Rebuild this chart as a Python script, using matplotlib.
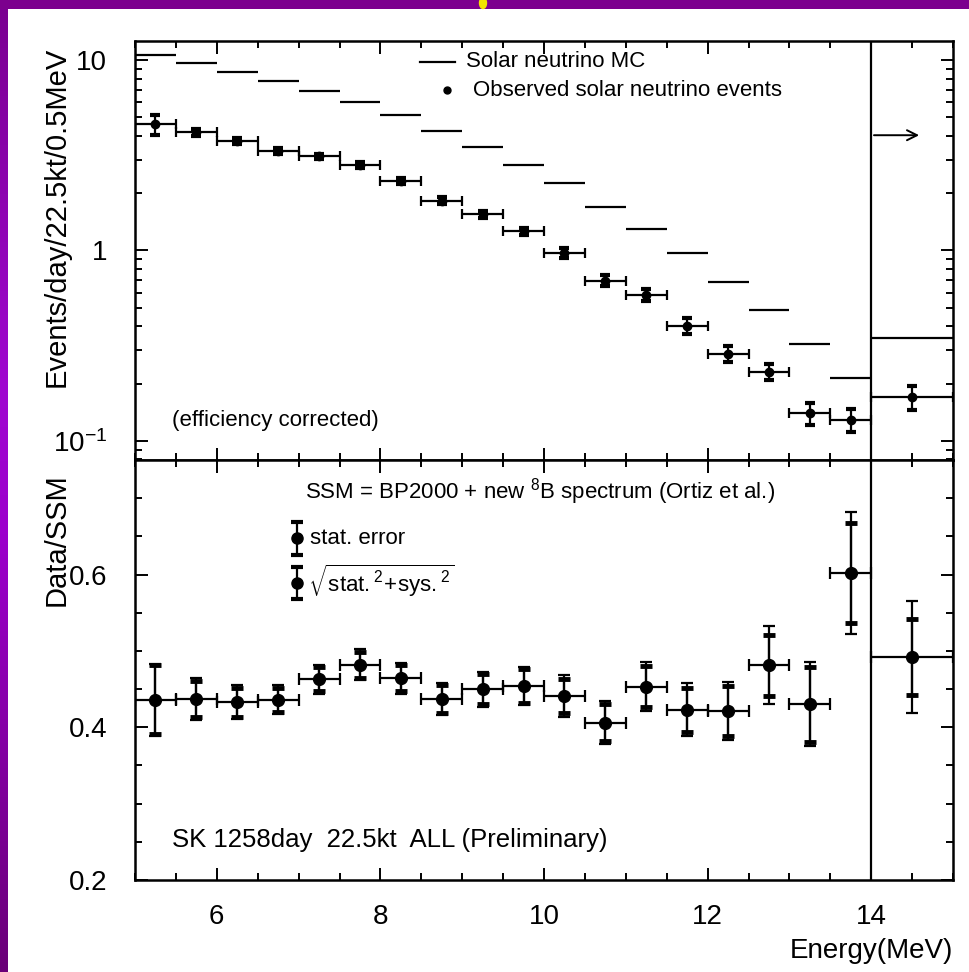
import numpy as np
import matplotlib
matplotlib.use('Agg')
import matplotlib.pyplot as plt
from matplotlib.ticker import FixedLocator, MultipleLocator, LogLocator, FuncFormatter, NullFormatter
from matplotlib.patches import Ellipse

plt.rcParams['font.family'] = ['Liberation Sans', 'DejaVu Sans']
plt.rcParams['mathtext.fontset'] = 'custom'
plt.rcParams['mathtext.rm'] = 'Liberation Sans'
plt.rcParams['mathtext.it'] = 'Liberation Sans:italic'
plt.rcParams['mathtext.bf'] = 'Liberation Sans:bold'

# energy bins (MeV): 0.5 MeV bins from 5 to 14, last bin 14-15
energy = [5.25, 5.75, 6.25, 6.75, 7.25, 7.75, 8.25, 8.75, 9.25, 9.75,
          10.25, 10.75, 11.25, 11.75, 12.25, 12.75, 13.25, 13.75, 14.5]
half_width = [0.25] * 18 + [0.5]

# upper panel: events/day/22.5kt/0.5MeV
mc_rate = [10.6, 9.6, 8.67, 7.75, 6.87, 6.01, 5.13, 4.23, 3.48, 2.80,
           2.25, 1.70, 1.29, 0.976, 0.687, 0.489, 0.324, 0.215, 0.348]
obs_rate = [4.60, 4.18, 3.75, 3.32, 3.12, 2.80, 2.31, 1.83, 1.55, 1.26,
            0.976, 0.695, 0.587, 0.403, 0.287, 0.231, 0.140, 0.129, 0.170]
obs_err = [0.55, 0.18, 0.14, 0.12, 0.11, 0.10, 0.08, 0.07, 0.06, 0.06,
           0.06, 0.045, 0.042, 0.04, 0.028, 0.022, 0.018, 0.018, 0.024]
arrow_level = 4.03

# lower panel: Data/SSM
ratio = [0.436, 0.437, 0.433, 0.436, 0.463, 0.482, 0.464, 0.437, 0.450, 0.454,
         0.441, 0.406, 0.453, 0.423, 0.421, 0.481, 0.430, 0.602, 0.492]
ratio_stat = [0.045, 0.024, 0.019, 0.016, 0.016, 0.017, 0.017, 0.018, 0.020, 0.022,
              0.022, 0.024, 0.027, 0.029, 0.033, 0.040, 0.049, 0.066, 0.050]
ratio_tot = [0.047, 0.027, 0.022, 0.019, 0.019, 0.020, 0.020, 0.021, 0.023, 0.025,
             0.027, 0.028, 0.032, 0.035, 0.038, 0.051, 0.055, 0.080, 0.073]

x = np.array(energy)
xw = np.array(half_width)

W, H = 969, 972
fig = plt.figure(figsize=(W / 100, H / 100), dpi=100)
fig.patch.set_facecolor('white')

# purple frame (slide background)
grad = fig.add_axes([0, 0, 8 / W, 1])
cols = np.array([[0x6a, 0x00, 0x78], [0x9c, 0x00, 0xcc], [0xa0, 0x08, 0xd0], [0x7a, 0x00, 0x90]]) / 255
yy = np.linspace(0, 1, 200)
img = np.stack([np.interp(yy, [0, 0.45, 0.6, 1], cols[:, k]) for k in range(3)], axis=-1)[:, None, :]
grad.imshow(img, aspect='auto', origin='lower', extent=[0, 1, 0, 1])
grad.axis('off')
topbar = fig.add_axes([0, 1 - 9 / H, 1, 9 / H])
topbar.set_facecolor('#7c008e')
topbar.set_xticks([]); topbar.set_yticks([])
for s in topbar.spines.values():
    s.set_visible(False)
fig.patches.append(Ellipse((483 / W, 1 - 3 / H), 7 / W, 11 / H, transform=fig.transFigure,
                           color='#f2e400', zorder=10))

left, right = 135 / W, 953 / W
ax1 = fig.add_axes([left, 1 - 460 / H, right - left, 419 / H])
ax2 = fig.add_axes([left, 1 - 880 / H, right - left, 420 / H], sharex=ax1)

lw = 1.6
# ---------- upper panel ----------
ax1.hlines(mc_rate, x - xw, x + xw, color='k', lw=lw)
ax1.errorbar(x, obs_rate, xerr=xw, fmt='o', color='k', ms=6, lw=lw, capsize=3.5, capthick=lw)
ax1.errorbar(x, obs_rate, yerr=obs_err, fmt='none', ecolor='k', lw=lw, capsize=3.5, capthick=3)
ax1.annotate('', xy=(14.62, arrow_level), xytext=(14.0, arrow_level),
             arrowprops=dict(arrowstyle='->', color='k', lw=1.4, mutation_scale=18))
ax1.set_yscale('log')
ax1.set_ylim(10 ** -1.1, 10 ** 1.1)
ax1.yaxis.set_major_locator(FixedLocator([0.1, 1, 10]))
ax1.yaxis.set_minor_locator(LogLocator(base=10, subs=np.arange(2, 10)))
ax1.yaxis.set_minor_formatter(NullFormatter())
ax1.yaxis.set_major_formatter(FuncFormatter(
    lambda v, p: {10.0: '10', 1.0: '1', 0.1: r'$10^{-1}$'}.get(round(v, 3), '')))
ax1.set_ylabel('Events/day/22.5kt/0.5MeV', fontsize=21)
ax1.yaxis.set_label_coords(-0.079, 0.58)
plt.setp(ax1.get_xticklabels(), visible=False)

# legend of upper panel
ax1.plot([0.348, 0.391], [0.950, 0.950], color='k', lw=lw, transform=ax1.transAxes)
ax1.text(0.405, 0.950, 'Solar neutrino MC', transform=ax1.transAxes, fontsize=16, va='center')
ax1.plot([0.382], [0.883], 'o', color='k', ms=5, transform=ax1.transAxes)
ax1.text(0.413, 0.883, 'Observed solar neutrino events', transform=ax1.transAxes, fontsize=16, va='center')
ax1.text(0.045, 0.095, '(efficiency corrected)', transform=ax1.transAxes, fontsize=16, va='center')

# ---------- lower panel ----------
ax2.errorbar(x, ratio, xerr=xw, yerr=ratio_tot, fmt='o', color='k', ms=8.5, lw=lw,
             capsize=4.5, capthick=lw)
ax2.errorbar(x, ratio, yerr=ratio_stat, fmt='none', ecolor='k', lw=lw, capsize=4.5, capthick=3.5)
ax2.set_ylabel('Data/SSM', fontsize=21)
ax2.yaxis.set_label_coords(-0.079, 0.81)

ax2.text(0.208, 0.924, r'SSM = BP2000 + new $^{8}$B spectrum (Ortiz et al.)',
         transform=ax2.transAxes, fontsize=16, va='center')
for ly in (0.814, 0.707):
    ax2.errorbar([0.198], [ly], yerr=[0.039], fmt='o', color='k', ms=8, lw=lw,
                 capsize=4.5, capthick=3, transform=ax2.transAxes, clip_on=False)
ax2.text(0.214, 0.814, 'stat. error', transform=ax2.transAxes, fontsize=16, va='center')
ax2.text(0.212, 0.712, r'$\sqrt{\mathrm{stat.}^{2}\!+\!\mathrm{sys.}^{2}}$',
         transform=ax2.transAxes, fontsize=16, va='center')
ax2.text(0.045, 0.095, 'SK 1258day  22.5kt  ALL (Preliminary)', transform=ax2.transAxes,
         fontsize=18.5, va='center')

ax2.set_ylim(0.2, 0.75)
ax2.yaxis.set_major_locator(FixedLocator([0.2, 0.4, 0.6]))
ax2.yaxis.set_minor_locator(MultipleLocator(0.05))
ax2.yaxis.set_major_formatter(FuncFormatter(lambda v, p: f'{v:.1f}'))
ax2.set_xlim(5, 15)
ax2.xaxis.set_major_locator(FixedLocator([6, 8, 10, 12, 14]))
ax2.xaxis.set_minor_locator(MultipleLocator(0.5))
ax2.set_xlabel('Energy(MeV)', fontsize=20, ha='right', x=1.0, labelpad=6)

for ax in (ax1, ax2):
    ax.axvline(14, color='k', lw=lw)
    for s in ax.spines.values():
        s.set_linewidth(1.8)
    ax.tick_params(which='both', direction='in', top=True, right=True, width=1.4,
                   labelsize=20)
    ax.tick_params(axis='y', which='both', pad=20)
    ax.tick_params(axis='x', which='both', pad=17)
    ax.tick_params(which='major', length=9)
    ax.tick_params(which='minor', length=5)

fig.savefig('out.png', dpi=100)
